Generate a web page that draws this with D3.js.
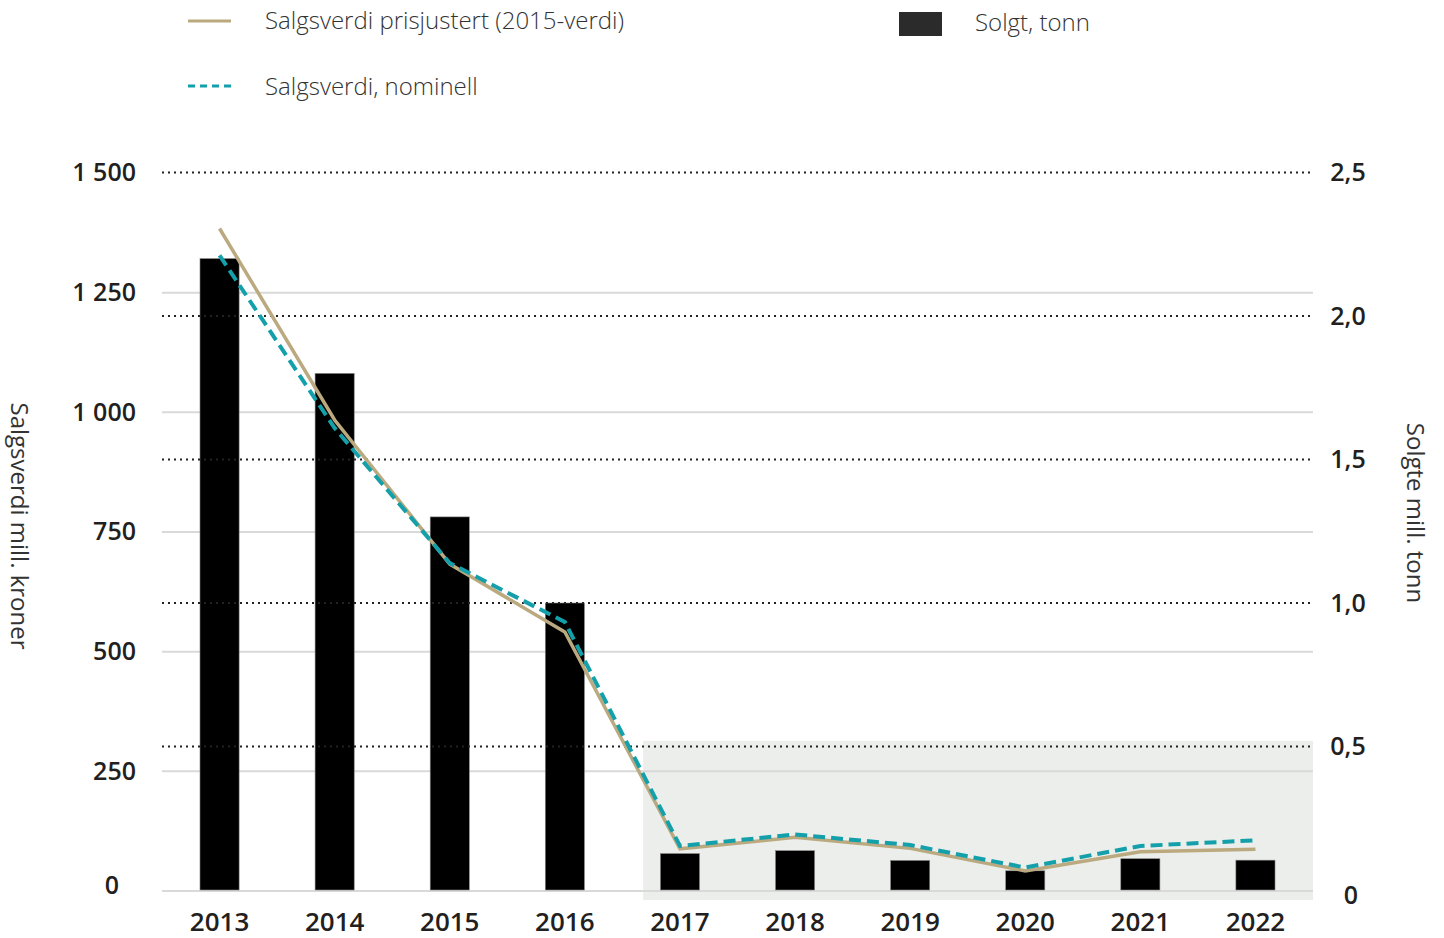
<!DOCTYPE html>
<html>
<head>
<meta charset="utf-8">
<script src="https://cdn.jsdelivr.net/npm/d3@7"></script>
<style>
  body { margin: 0; background: #fff; }
  text { font-family: "Open Sans", sans-serif; }
</style>
</head>
<body>
<svg id="chart" width="1444" height="938"></svg>
<script>
// Data
var years = ["2013", "2014", "2015", "2016", "2017", "2018", "2019", "2020", "2021", "2022"];
var solgtTonn = [2.2, 1.8, 1.3, 1.0, 0.127, 0.137, 0.103, 0.067, 0.109, 0.104];      // mill. tonn (right axis)
var prisjustert = [1383, 983, 682, 540, 87, 111, 88, 41, 81, 86];                  // mill. kroner
var nominell = [1327, 966, 684, 561, 93, 117, 95, 48, 93, 105];                    // mill. kroner
var leftTicks = [0, 250, 500, 750, 1000, 1250, 1500];
var rightTicks = [0, 0.5, 1.0, 1.5, 2.0, 2.5];
var shadeYears = ["2017", "2022"];
var shadeTop = 0.52;

var svg = d3.select("#chart");

// Scales
var x = d3.scaleBand()
    .domain(years)
    .range([162, 1313])
    .paddingInner(0.66)
    .paddingOuter(0.33);

var yL = d3.scaleLinear().domain([0, 1500]).range([890.5, 172.5]);
var yR = d3.scaleLinear().domain([0, 2.5]).range([890, 172.5]);

var cx = function (d) { return x(d) + x.bandwidth() / 2; };
var plotW = x.range()[1] - x.range()[0];

// Grey box behind the last years
var sx0 = x(shadeYears[0]) - x.step() * 0.15;
svg.append("rect")
    .attr("x", sx0)
    .attr("y", yR(shadeTop))
    .attr("width", x.range()[1] - sx0)
    .attr("height", yR(0) + 10 - yR(shadeTop))
    .style("fill", "#eceeeb");

// Solid grid for left axis
svg.append("g")
    .attr("transform", "translate(" + x.range()[1] + ",0)")
    .call(d3.axisLeft(yL).tickValues(leftTicks.slice(0, -1)).tickSize(plotW).tickFormat(""))
    .call(function (g) { g.select(".domain").remove(); })
    .selectAll("line")
    .style("stroke", "#d9d9d9")
    .style("stroke-width", 2);

// Bars
svg.append("g").selectAll("rect")
    .data(years)
    .enter().append("rect")
    .attr("x", function (d) { return x(d); })
    .attr("width", x.bandwidth())
    .attr("y", function (d, i) { return yR(solgtTonn[i]); })
    .attr("height", function (d, i) { return yR(0) - yR(solgtTonn[i]); })
    .style("fill", "#000")
    .style("stroke", "#888")
    .style("stroke-width", 0.6);

// Dotted grid for right axis
svg.append("g").selectAll("line")
    .data(rightTicks.slice(1))
    .enter().append("line")
    .attr("x1", x.range()[0])
    .attr("x2", x.range()[1])
    .attr("y1", function (d) { return yR(d); })
    .attr("y2", function (d) { return yR(d); })
    .style("stroke", "#222")
    .style("stroke-width", 2)
    .style("stroke-dasharray", "2,4");

// Lines
var lineL = d3.line()
    .x(function (d, i) { return cx(years[i]); })
    .y(function (d) { return yL(d); });

svg.append("path")
    .datum(prisjustert)
    .attr("d", lineL)
    .style("fill", "none")
    .style("stroke", "#bba97f")
    .style("stroke-width", 3.5);

svg.append("path")
    .datum(nominell)
    .attr("d", lineL)
    .style("fill", "none")
    .style("stroke", "#14a0aa")
    .style("stroke-width", 4)
    .style("stroke-dasharray", "12,6");

// Left tick labels
svg.append("g").selectAll("text")
    .data(leftTicks)
    .enter().append("text")
    .attr("x", function (d) { return d === 0 ? 119 : 136; })
    .attr("y", function (d) { return yL(d) - (d === 0 ? 5 : 0); })
    .attr("dy", "0.35em")
    .attr("text-anchor", "end")
    .style("font-size", "25px")
    .style("font-weight", 600)
    .style("fill", "#231f20")
    .text(function (d) { return d3.format(",")(d).replace(/,/g, " "); });

// Right tick labels
svg.append("g").selectAll("text")
    .data(rightTicks)
    .enter().append("text")
    .attr("x", function (d) { return d === 0 ? 1351 : 1348; })
    .attr("y", function (d) { return yR(d) + (d === 0 ? 5 : 0); })
    .attr("dy", "0.35em")
    .attr("text-anchor", "middle")
    .style("font-size", "25px")
    .style("font-weight", 600)
    .style("fill", "#231f20")
    .text(function (d) { return d === 0 ? "0" : d3.format(".1f")(d).replace(".", ","); });

// Year labels
svg.append("g").selectAll("text")
    .data(years)
    .enter().append("text")
    .attr("x", function (d) { return cx(d); })
    .attr("y", 931)
    .attr("text-anchor", "middle")
    .style("font-size", "26px")
    .style("font-weight", 600)
    .style("fill", "#231f20")
    .text(function (d) { return d; });

// Axis titles
svg.append("text")
    .attr("transform", "translate(11,526) rotate(90)")
    .attr("text-anchor", "middle")
    .style("font-size", "24px")
    .style("fill", "#333")
    .text("Salgsverdi mill. kroner");

svg.append("text")
    .attr("transform", "translate(1407,513) rotate(90)")
    .attr("text-anchor", "middle")
    .style("font-size", "24px")
    .style("fill", "#333")
    .text("Solgte mill. tonn");

// Legend
var legend = svg.append("g").attr("class", "legend");

legend.append("line")
    .attr("x1", 188).attr("x2", 231).attr("y1", 21).attr("y2", 21)
    .style("stroke", "#bba97f").style("stroke-width", 3);
legend.append("text")
    .attr("x", 265).attr("y", 21).attr("dy", "0.35em")
    .style("font-size", "24px").style("font-weight", 300).style("fill", "#333")
    .text("Salgsverdi prisjustert (2015-verdi)");

legend.append("line")
    .attr("x1", 188).attr("x2", 231).attr("y1", 86).attr("y2", 86)
    .style("stroke", "#14a0aa").style("stroke-width", 3)
    .style("stroke-dasharray", "7,5");
legend.append("text")
    .attr("x", 265).attr("y", 87).attr("dy", "0.35em")
    .style("font-size", "24px").style("font-weight", 300).style("fill", "#333")
    .text("Salgsverdi, nominell");

legend.append("rect")
    .attr("x", 899).attr("y", 12).attr("width", 43).attr("height", 24)
    .style("fill", "#2a2b2a");
legend.append("text")
    .attr("x", 975).attr("y", 23).attr("dy", "0.35em")
    .style("font-size", "24px").style("font-weight", 300).style("fill", "#333")
    .text("Solgt, tonn");
</script>
</body>
</html>
